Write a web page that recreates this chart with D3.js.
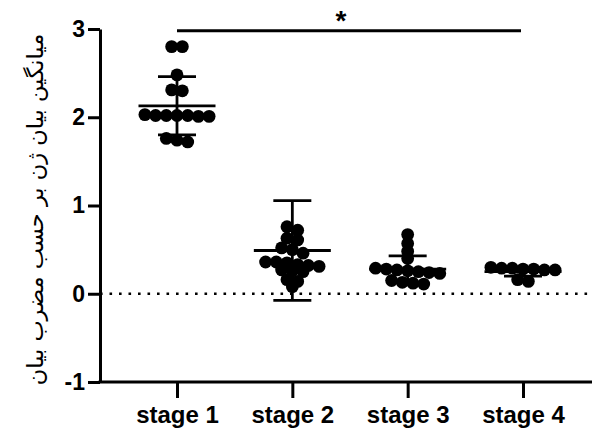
<!DOCTYPE html>
<meta charset="utf-8">
<style>
body { margin: 0; background: #fff; }
text { fill: #000; }
</style>
<body>
<svg width="592" height="430"></svg>
<script src="https://d3js.org/d3.v7.min.js"></script>
<script>
// data
const stages = ["stage 1", "stage 2", "stage 3", "stage 4"];
const stage1 = [2.80, 2.80, 2.48, 2.31, 2.30, 2.03, 2.02, 2.02, 2.02, 2.02, 2.01, 2.01, 1.76, 1.74, 1.72];
const stage2 = [0.76, 0.72, 0.63, 0.61, 0.52, 0.50, 0.46, 0.36, 0.36, 0.35, 0.33, 0.32, 0.31, 0.27, 0.26, 0.25, 0.16, 0.14, 0.08];
const stage3 = [0.67, 0.57, 0.48, 0.40, 0.29, 0.28, 0.27, 0.26, 0.25, 0.24, 0.23, 0.15, 0.13, 0.12, 0.11];
const stage4 = [0.30, 0.29, 0.29, 0.28, 0.28, 0.27, 0.27, 0.16, 0.14];
const means = [2.13, 0.49, 0.28, 0.25];
const sds = [0.33, 0.565, 0.15, 0.05];
const yTicks = [-1, 0, 1, 2, 3];
const yLabel = "میانگین بیان ژن بر حسب مضرب بیان";
const sigPair = ["stage 1", "stage 4"];
const sigLevel = 2.98;
const sigMark = "*";

const groups = [stage1, stage2, stage3, stage4];

const svg = d3.select("svg");
const x = d3.scalePoint().domain(stages).range([177, 523]);
const y = d3.scaleLinear().domain([-1, 3]).range([382, 29]);

const r = 6.4, step = 10.7, rowH = 6;

// zero reference line
svg.append("line")
    .attr("x1", 100).attr("x2", 592)
    .attr("y1", y(0)).attr("y2", y(0))
    .attr("stroke", "#000").attr("stroke-width", 2.6)
    .attr("stroke-dasharray", "2.6,6.9");

// y axis
const gy = svg.append("g").attr("transform", "translate(100,0)")
    .call(d3.axisLeft(y).tickValues(yTicks).tickSize(12).tickSizeOuter(0).tickFormat(d => String(d)));
gy.select(".domain").attr("stroke-width", 3);
gy.selectAll(".tick line").attr("stroke-width", 3);
gy.selectAll(".tick text")
    .attr("x", -15)
    .attr("font-family", "Liberation Sans, Arial, sans-serif")
    .attr("font-weight", "bold").attr("font-size", 23);

// x axis
const gx = svg.append("g").attr("transform", "translate(0,382)")
    .call(d3.axisBottom(x).tickSize(16).tickSizeOuter(0));
gx.select(".domain").remove();
gx.append("line").attr("x1", 98.5).attr("x2", 592).attr("stroke", "#000").attr("stroke-width", 3);
gx.selectAll(".tick line").attr("stroke-width", 3);
gx.selectAll(".tick text")
    .attr("y", 24)
    .attr("font-family", "Liberation Sans, Arial, sans-serif")
    .attr("font-weight", "bold").attr("font-size", 24);

// y label
svg.append("text")
    .attr("transform", `translate(43,${(y(-1) + y(3)) / 2 + 4}) rotate(-90)`)
    .attr("text-anchor", "middle")
    .attr("font-family", "DejaVu Sans, sans-serif")
    .attr("font-size", 22.5)
    .text(yLabel);

// scatter, laid out in rows like a column scatter
groups.forEach((vals, gi) => {
    const cx = x(stages[gi]);
    const sorted = vals.slice().sort((a, b) => b - a);
    const rows = [];
    sorted.forEach(v => {
        const py = y(v);
        const last = rows[rows.length - 1];
        if (last && py - last.start <= rowH) last.items.push(v);
        else rows.push({ start: py, items: [v] });
    });
    const pts = [];
    rows.forEach(row => {
        const n = row.items.length;
        row.items.forEach((v, i) => pts.push({ x: cx + (i - (n - 1) / 2) * step, v }));
    });
    svg.append("g").selectAll("circle").data(pts).enter().append("circle")
        .attr("cx", d => d.x).attr("cy", d => y(d.v)).attr("r", r)
        .attr("fill", "#000");

    // mean and SD
    const m = means[gi], s = sds[gi];
    const eb = svg.append("g").attr("stroke", "#000").attr("stroke-width", 2.8);
    eb.append("line").attr("x1", cx).attr("x2", cx).attr("y1", y(m - s)).attr("y2", y(m + s));
    eb.append("line").attr("x1", cx - 19).attr("x2", cx + 19).attr("y1", y(m + s)).attr("y2", y(m + s));
    eb.append("line").attr("x1", cx - 19).attr("x2", cx + 19).attr("y1", y(m - s)).attr("y2", y(m - s));
    eb.append("line").attr("x1", cx - 38.5).attr("x2", cx + 38.5).attr("y1", y(m)).attr("y2", y(m));
});

// significance bar
svg.append("line")
    .attr("x1", x(sigPair[0])).attr("x2", x(sigPair[1]) - 2)
    .attr("y1", y(sigLevel)).attr("y2", y(sigLevel))
    .attr("stroke", "#000").attr("stroke-width", 3);
svg.append("text")
    .attr("x", (x(sigPair[0]) + x(sigPair[1])) / 2 - 9)
    .attr("y", y(sigLevel) - 1)
    .attr("text-anchor", "middle")
    .attr("font-family", "Liberation Sans, Arial, sans-serif")
    .attr("font-weight", "bold").attr("font-size", 28)
    .text(sigMark);
</script>
</body>
